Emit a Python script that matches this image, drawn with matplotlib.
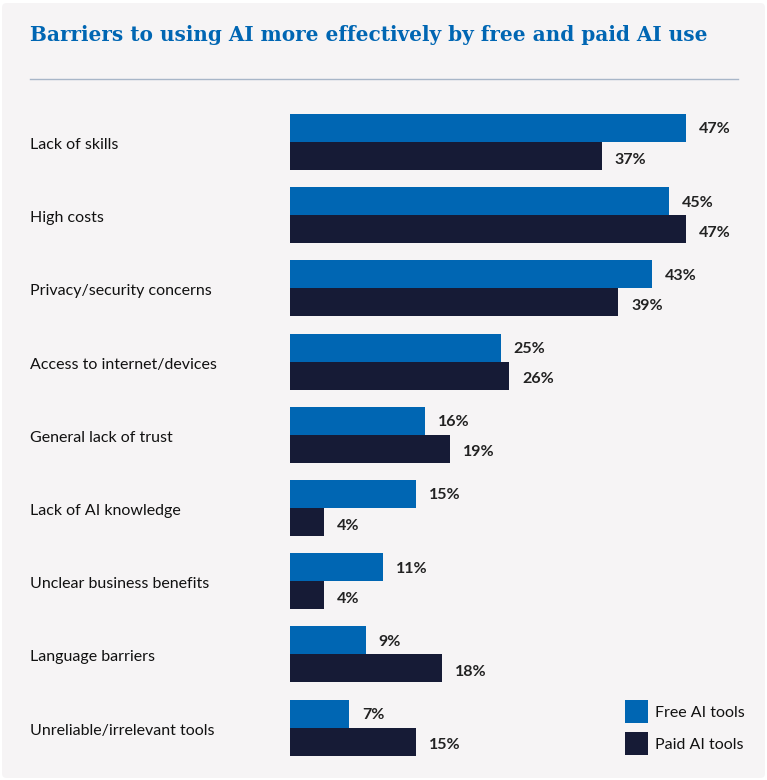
import matplotlib
matplotlib.use("Agg")
import matplotlib.pyplot as plt
from matplotlib.patches import FancyBboxPatch, Rectangle
from matplotlib.lines import Line2D

categories = ["Lack of skills", "High costs", "Privacy/security concerns",
              "Access to internet/devices", "General lack of trust",
              "Lack of AI knowledge", "Unclear business benefits",
              "Language barriers", "Unreliable/irrelevant tools"]
free_vals = [47, 45, 43, 25, 16, 15, 11, 9, 7]
paid_vals = [37, 47, 39, 26, 19, 4, 4, 18, 15]
series_names = ["Free AI tools", "Paid AI tools"]
title = "Barriers to using AI more effectively by free and paid AI use"

FREE_C = "#0066b3"
PAID_C = "#161b36"
BG = "#f6f4f5"
W, H = 767, 780

fig = plt.figure(figsize=(W / 100, H / 100), dpi=100)
fig.patch.set_facecolor("white")
fig.patches.append(FancyBboxPatch((2 / W, 2 / H), (W - 4) / W, (H - 5) / H,
                                  boxstyle="round,pad=0,rounding_size=0.006",
                                  transform=fig.transFigure, facecolor=BG,
                                  edgecolor="none", zorder=-10))

# title
fig.text(30 / W, 1 - 35 / H, title, fontsize=14.4, fontweight="bold",
         family="DejaVu Serif", color=FREE_C, va="center", ha="left")
fig.lines.append(Line2D([30 / W, 738 / W], [1 - 79 / H, 1 - 79 / H],
                        transform=fig.transFigure, color="#a8b6c8", lw=1))

# axes: x=0 at px 290, 8.42 px per %
px_per = 8.42
x_left = 290
xmax = 50
ax_w = xmax * px_per
row = 73.2
ytop_val, ybot_val = -0.6, 8.6
top_px = 142 - 0.6 * row
bot_px = 142 + 8.6 * row
ax = fig.add_axes([x_left / W, 1 - bot_px / H, ax_w / W, (bot_px - top_px) / H])
ax.set_facecolor("none")
ax.set_xlim(0, xmax)
ax.set_ylim(ybot_val, ytop_val)
for s in ax.spines.values():
    s.set_visible(False)
ax.set_xticks([])
ax.set_yticks([])

bh = 28 / row
ys = list(range(len(categories)))
ax.barh([y - bh / 2 for y in ys], free_vals, height=bh, color=FREE_C,
        align="center", label=series_names[0])
ax.barh([y + bh / 2 for y in ys], paid_vals, height=bh, color=PAID_C,
        align="center", label=series_names[1])

off = 13 / px_per
for y, f, p in zip(ys, free_vals, paid_vals):
    ax.text(f + off, y - bh / 2 + 0.02, f"{f}%", va="center", ha="left",
            fontsize=11.5, fontweight="bold", family="Lato", color="#222222")
    ax.text(p + off, y + bh / 2 + 0.05, f"{p}%", va="center", ha="left",
            fontsize=11.5, fontweight="bold", family="Lato", color="#222222")
    # category labels
    fig.text(30 / W, 1 - (142 + y * row + 3) / H, categories[y], va="center",
             ha="left", fontsize=11.5, family="Lato", color="#111111")

# legend
for i, (name, c) in enumerate(zip(series_names, [FREE_C, PAID_C])):
    y0 = 700 + i * 32
    fig.patches.append(Rectangle((625 / W, 1 - (y0 + 23) / H), 23 / W, 23 / H,
                                 transform=fig.transFigure, facecolor=c,
                                 edgecolor="none"))
    fig.text(655 / W, 1 - (y0 + 13) / H, name, va="center", ha="left",
             fontsize=11.5, family="Lato", color="#111111")

fig.savefig("out.png", dpi=100, facecolor=fig.get_facecolor())
